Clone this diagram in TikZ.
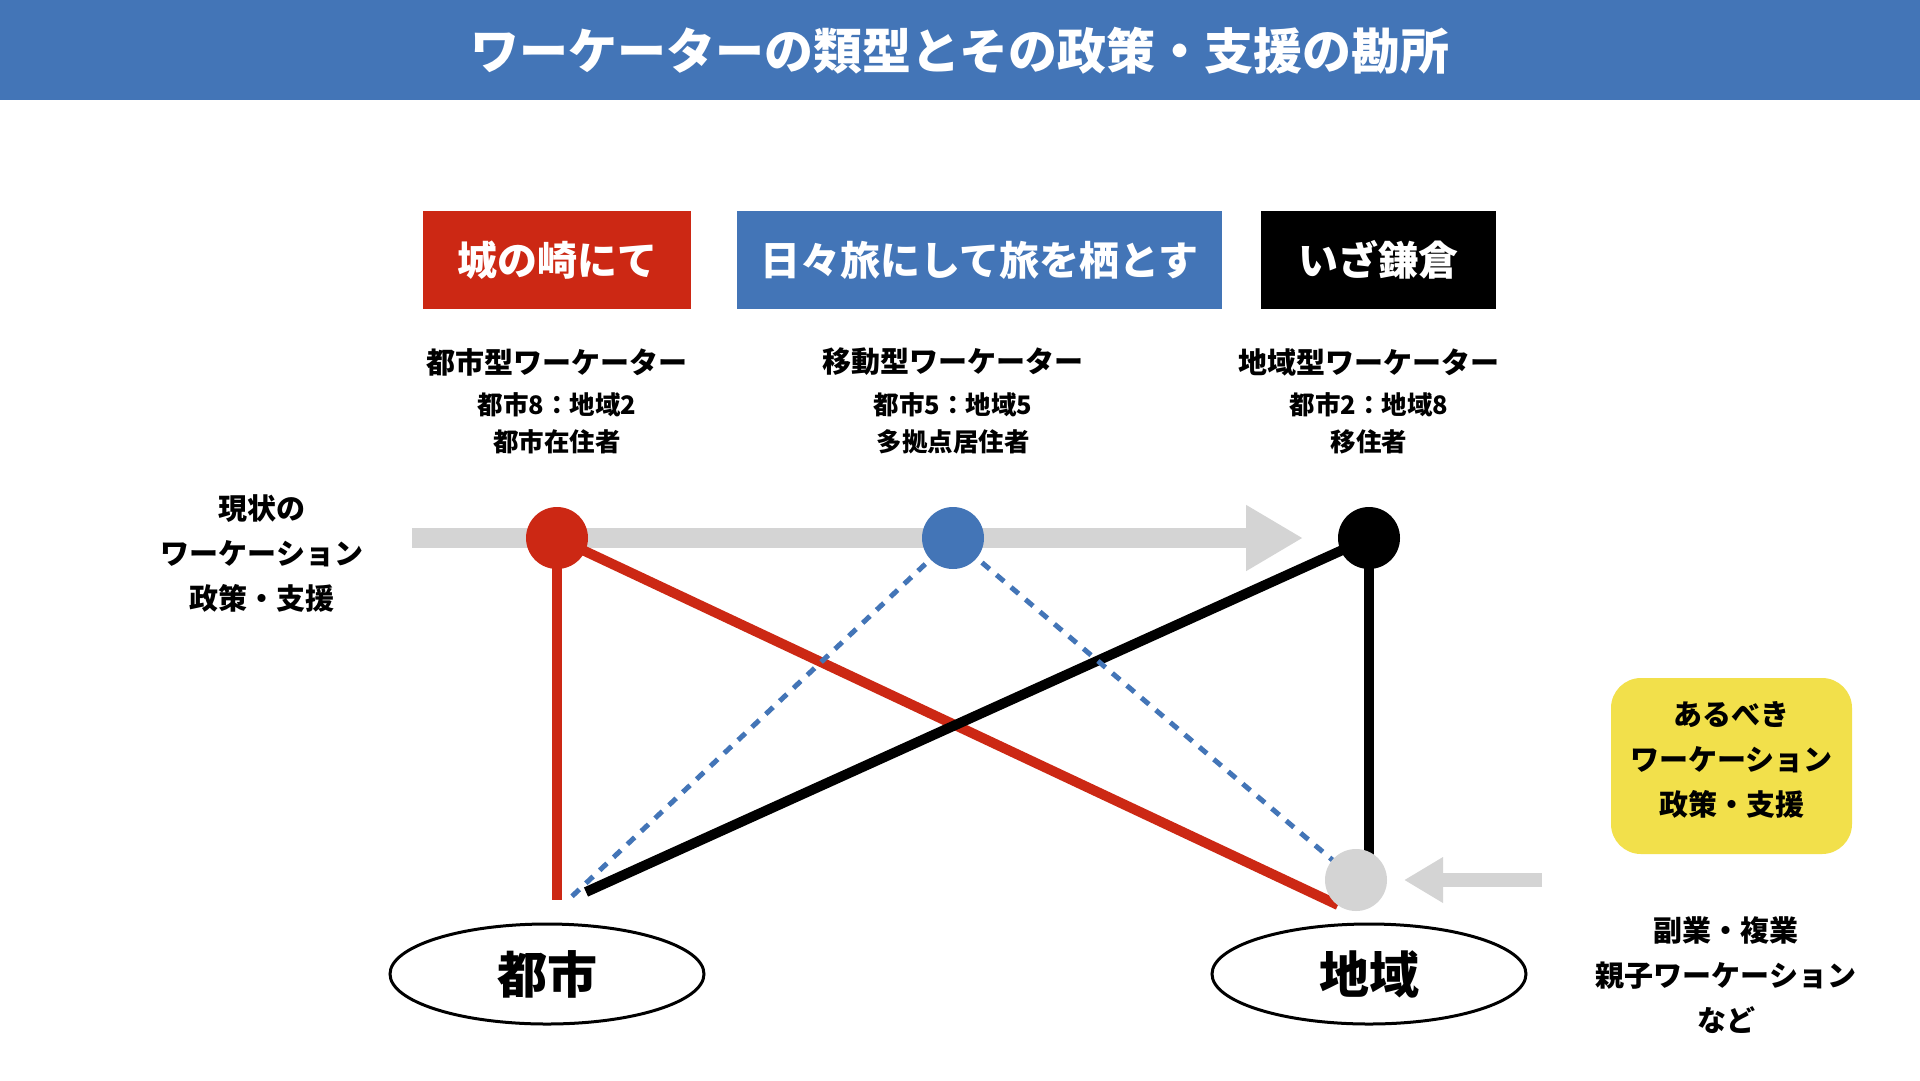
\documentclass[tikz,border=0pt]{standalone}
\usepackage{fontspec}
\setmainfont{Noto Sans CJK JP}
\usetikzlibrary{shapes.geometric,arrows.meta}
\definecolor{titleblue}{RGB}{67,117,183}
\definecolor{myred}{RGB}{204,40,20}
\definecolor{myblue}{RGB}{67,117,183}
\definecolor{mygray}{RGB}{212,212,212}
\definecolor{myyellow}{RGB}{242,224,75}
\tikzset{
  fs/.style={font=\bfseries\fontsize{#1}{#1}\selectfont},
  boxhead/.style={rectangle,inner sep=0pt,minimum height=98pt,text=white,fs=40},
  lab/.style={inner sep=0pt,fs=29},
  sub/.style={inner sep=0pt,fs=25.5},
  dot/.style={circle,inner sep=0pt,minimum size=62pt},
  place/.style={ellipse,draw=black,line width=3pt,minimum width=314pt,minimum height=100pt,inner sep=0pt,fs=50},
  multi/.style={align=center,inner sep=0pt,font=\bfseries\fontsize{29}{45}\selectfont},
  dashline/.style={myblue,line width=5pt,dash pattern=on 10pt off 9pt},
  thick line/.style={line width=10pt},
}
\begin{document}
\begin{tikzpicture}[x=1pt,y=-1pt]
\useasboundingbox (0,0) rectangle (1920,1080);
\fill[white] (0,0) rectangle (1920,1080);
% title
\fill[titleblue] (0,0) rectangle (1920,100);
\node[text=white,inner sep=0pt,fs=49] (title) at (960,51) {ワーケーターの類型とその政策・支援の勘所};
% head boxes
\node[boxhead,fill=myred,minimum width=268pt] (b1) at (557,260) {城の崎にて};
\node[boxhead,fill=myblue,minimum width=485pt] (b2) at (979.5,260) {日々旅にして旅を栖とす};
\node[boxhead,fill=black,minimum width=235pt] (b3) at (1378.5,260) {いざ鎌倉};
% labels
\node[lab] (l1a) at (557,362) {都市型ワーケーター};
\node[sub] (l1b) at (557,405) {都市8：地域2};
\node[sub] (l1c) at (557,442) {都市在住者};
\node[lab] (l2a) at (953,362) {移動型ワーケーター};
\node[sub] (l2b) at (953,405) {都市5：地域5};
\node[sub] (l2c) at (953,442) {多拠点居住者};
\node[lab] (l3a) at (1369,362) {地域型ワーケーター};
\node[sub] (l3b) at (1369,405) {都市2：地域8};
\node[sub] (l3c) at (1369,442) {移住者};
% left text
\node[multi] (cur) at (262,553) {現状の\\ワーケーション\\政策・支援};
% big gray arrow
\coordinate (ga0) at (412,538);
\coordinate (ga1) at (1303,538);
\draw[mygray,line width=20pt,-{Triangle[length=57pt,width=62pt]}] (ga0) -- (ga1);
% nodes (circles)
\node[dot] (cr) at (557,538) {};
\node[dot] (cb) at (953,538) {};
\node[dot] (ck) at (1369,538) {};
\node[dot] (cg) at (1356,880) {};
% free ends
\coordinate (redEnd) at (557,900);
\coordinate (redDiag) at (1338,905);
\coordinate (blueEnd) at (567,901);
\coordinate (blackEnd) at (586,892);
\coordinate (blackDown) at (1369,856);
% connectors
\draw[myred,thick line] (cr.center) -- (redEnd);
\draw[myred,thick line] (cr.center) -- (redDiag);
\draw[black,thick line] (ck.center) -- (blackEnd);
\draw[black,thick line] (ck.center) -- (blackDown);
\draw[dashline] (cb.center) -- (blueEnd);
\draw[dashline] (cb.center) -- (cg.center);
% circles on top
\fill[myred] (cr) circle (31pt);
\fill[myblue] (cb) circle (31pt);
\fill[black] (ck) circle (31pt);
\fill[mygray] (cg) circle (31pt);
% places
\node[place] (city) at (547,974) {都市};
\node[place] (region) at (1369,974) {地域};
% yellow box
\node[rectangle,rounded corners=30pt,fill=myyellow,minimum width=241pt,minimum height=176pt,inner sep=0pt] (ideal) at (1731.5,766) {};
\node[multi] (idealtxt) at (1731.5,760) {あるべき\\ワーケーション\\政策・支援};
% small arrow
\coordinate (sa0) at (1542,880);
\coordinate (sa1) at (1404,880);
\draw[mygray,line width=14pt,-{Triangle[length=39pt,width=43pt]}] (sa0) -- (sa1);
% bottom right text
\node[multi] (extra) at (1726,975) {副業・複業\\親子ワーケーション\\など};
\end{tikzpicture}
\end{document}
